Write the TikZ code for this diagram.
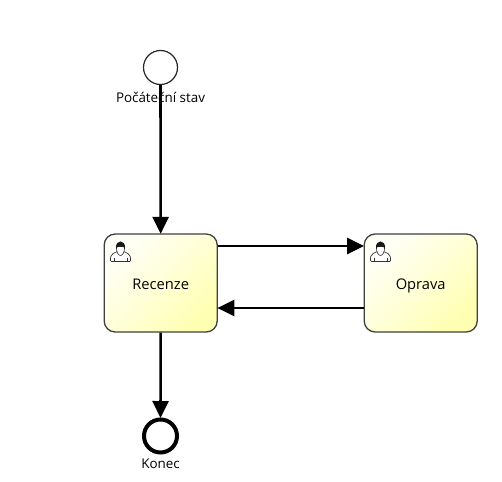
\documentclass[tikz,border=0pt]{standalone}
\usepackage{fontspec}
\setmainfont{Open Sans}
\usetikzlibrary{arrows.meta}
\tikzset{
  taskbox/.style={rounded corners=11pt,draw=black!75,line width=1.3pt,minimum width=113pt,minimum height=98pt,inner sep=0pt,
    shading=axis,left color=yellow!3,right color=yellow!30,middle color=yellow!16,shading angle=45,font=\fontsize{14.7pt}{17pt}\selectfont,text height=14pt,text depth=2pt},
  startev/.style={circle,draw=black!85,line width=1.2pt,fill=white,minimum size=34pt,inner sep=0pt},
  endev/.style={circle,draw=black,line width=4pt,fill=white,minimum size=33pt,inner sep=0pt},
  evlabel/.style={inner sep=0pt,font=\fontsize{13.4pt}{15pt}\selectfont},
  flow/.style={line width=2.6pt,black,-{Triangle[length=17pt,width=16pt]},shorten >=-0.5pt},
  usericon/.pic={
    \draw[black!80,line width=.7pt,fill=white,rounded corners=1pt]
      (-10,10) -- (-10,6) .. controls (-9,2) and (-6,1.5) .. (-3.5,0) -- (3.5,0) .. controls (6,1.5) and (9,2) .. (10,6) -- (10,10) -- cycle;
    \draw[black!80,line width=.6pt] (-6.5,10) -- (-6.5,6) (6.5,10) -- (6.5,6);
    \draw[black!80,line width=.6pt,fill=white] (-4.2,-5) .. controls (-4.2,1) and (-2,4) .. (0,4) .. controls (2,4) and (4.2,1) .. (4.2,-5) -- cycle;
    \fill[black!90] (-4.5,-3) .. controls (-5.5,-12.5) and (5.5,-12.5) .. (4.5,-3) .. controls (3,-6) and (-3,-6) .. (-4.5,-3) -- cycle;
  }
}
\begin{document}
\begin{tikzpicture}[x=1pt,y=-1pt]
\useasboundingbox (0,0) rectangle (502,481);
\fill[white] (0,0) rectangle (502,481);
\node[taskbox] (rec) at (160.7,283) {Recenze};
\node[taskbox] (opr) at (420.7,283) {Oprava};
\node[startev] (start) at (160.5,67.5) {};
\node[endev] (end) at (160.5,436) {};
\node[evlabel] (startlab) at (160.5,97.5) {Počáteční stav};
\node[evlabel] (endlab) at (160.5,463.5) {Konec};
\pic at (120.5,251.5) {usericon};
\pic at (380.5,251.5) {usericon};
\draw[flow] (start) -- (rec);
\draw[flow] (rec) -- (end);
\draw[flow] ([yshift=37pt]rec.east) -- ([yshift=37pt]opr.west);
\draw[flow] ([yshift=-25pt]opr.west) -- ([yshift=-25pt]rec.east);
\end{tikzpicture}
\end{document}
